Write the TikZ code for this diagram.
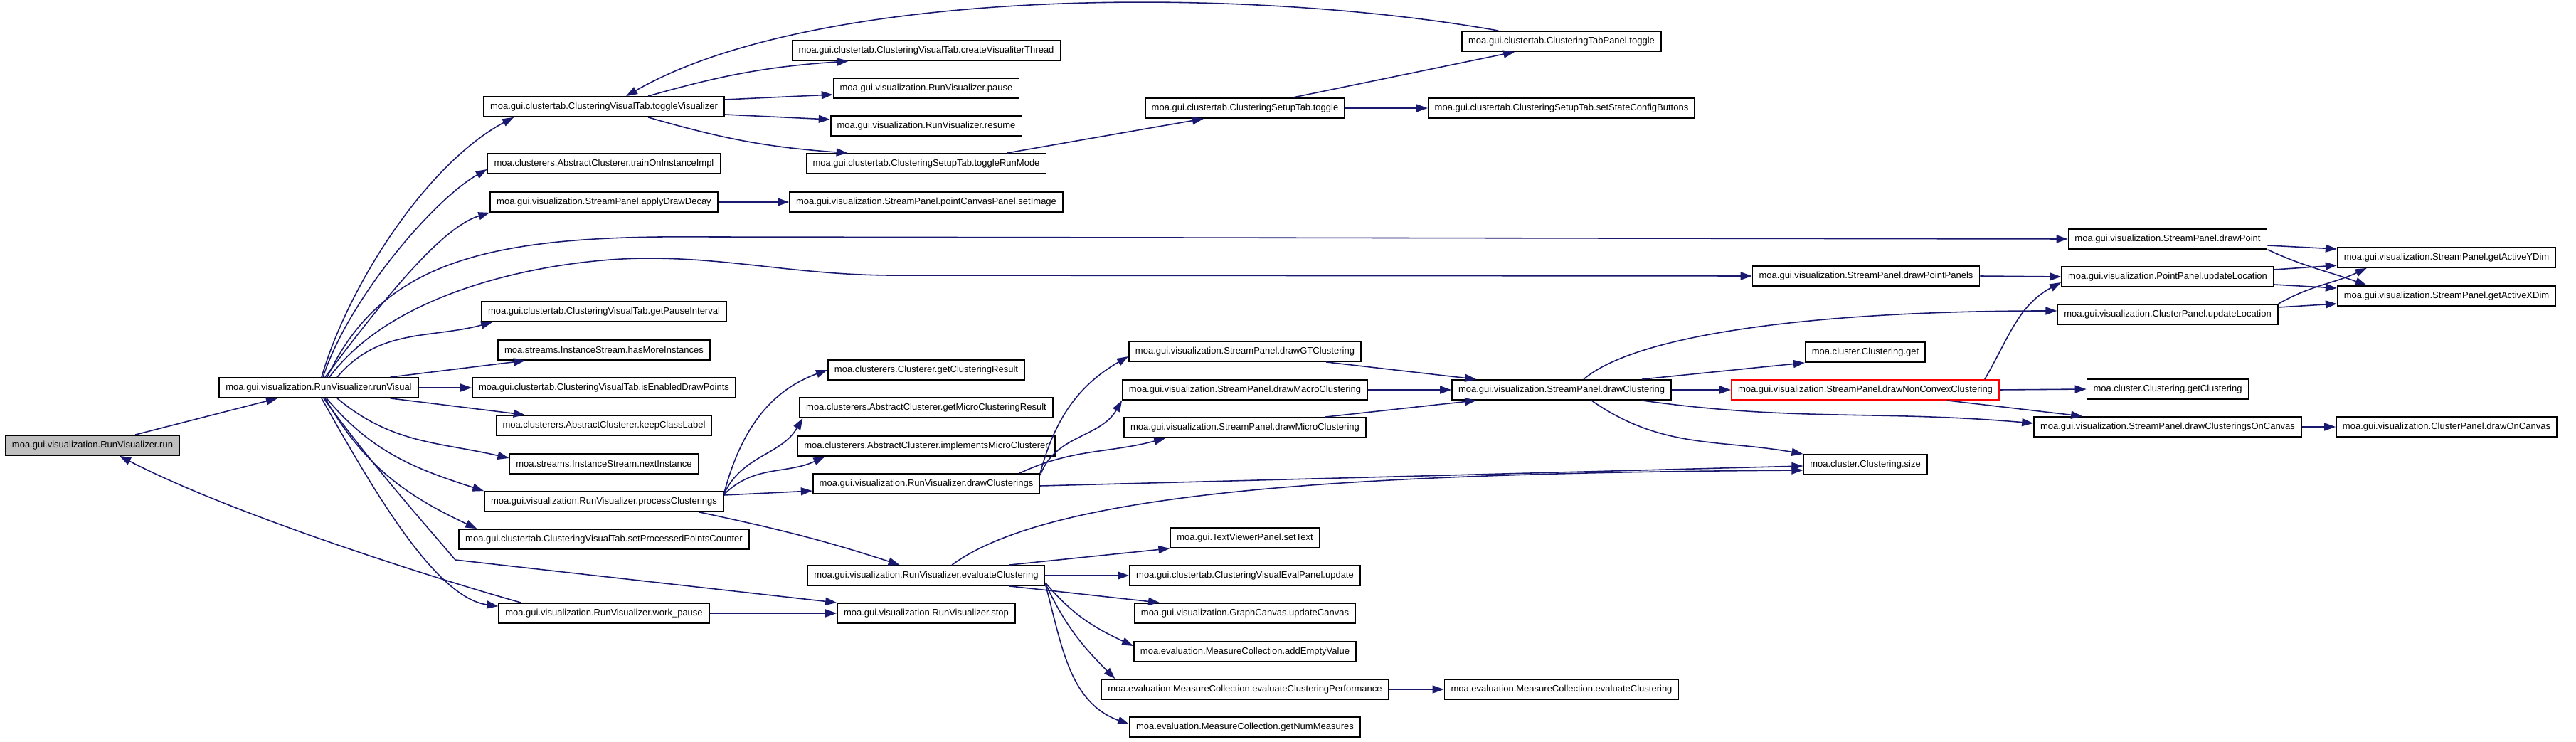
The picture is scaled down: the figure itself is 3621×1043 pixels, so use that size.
\documentclass[tikz,border=0pt]{standalone}
\usepackage{fontspec}
\setmainfont{Liberation Sans}
\usepackage{tikz}
\usetikzlibrary{arrows.meta}
\definecolor{edgeblue}{RGB}{25,25,112}
\definecolor{rungray}{RGB}{191,191,191}
\newcommand{\fn}{\fontsize{3.7}{4.4}\selectfont}

\begin{document}
\begin{tikzpicture}[x=0.01cm, y=0.01cm,
  fbox/.style={draw=black, fill=white, line width=0.5pt, minimum height=0.28cm,
               inner xsep=0.09cm, inner ysep=0pt, font=\fn},
  call/.style={draw=edgeblue, line width=0.45pt,
               -{Triangle[length=0.16cm, width=0.11cm]}}]

  \useasboundingbox (0,0) rectangle (3621,-1043);

  % Columns 0 and 1
  \node[fbox, fill=rungray] (run) at (130,-626) {moa.gui.visualization.RunVisualizer.run};
  \node[fbox] (runvis) at (448,-545) {moa.gui.visualization.RunVisualizer.runVisual};

  % Column 2
  \node[fbox] (togvis) at (849,-150) {moa.gui.clustertab.ClusteringVisualTab.toggleVisualizer};
  \node[fbox] (train) at (849,-230) {moa.clusterers.AbstractClusterer.trainOnInstanceImpl};
  \node[fbox] (decay) at (849,-284) {moa.gui.visualization.StreamPanel.applyDrawDecay};
  \node[fbox] (pauseint) at (849,-438) {moa.gui.clustertab.ClusteringVisualTab.getPauseInterval};
  \node[fbox] (hasmore) at (849,-492) {moa.streams.InstanceStream.hasMoreInstances};
  \node[fbox] (enabled) at (849,-545) {moa.gui.clustertab.ClusteringVisualTab.isEnabledDrawPoints};
  \node[fbox] (keeplabel) at (849,-598) {moa.clusterers.AbstractClusterer.keepClassLabel};
  \node[fbox] (nextinst) at (849,-652) {moa.streams.InstanceStream.nextInstance};
  \node[fbox] (process) at (849,-705) {moa.gui.visualization.RunVisualizer.processClusterings};
  \node[fbox] (counter) at (849,-758) {moa.gui.clustertab.ClusteringVisualTab.setProcessedPointsCounter};
  \node[fbox] (workpause) at (849,-862) {moa.gui.visualization.RunVisualizer.work\_pause};

  % Column 3
  \node[fbox] (thread) at (1302,-71) {moa.gui.clustertab.ClusteringVisualTab.createVisualiterThread};
  \node[fbox] (pause) at (1302,-124) {moa.gui.visualization.RunVisualizer.pause};
  \node[fbox] (resume) at (1302,-177) {moa.gui.visualization.RunVisualizer.resume};
  \node[fbox] (runmode) at (1302,-230) {moa.gui.clustertab.ClusteringSetupTab.toggleRunMode};
  \node[fbox] (setimage) at (1302,-284) {moa.gui.visualization.StreamPanel.pointCanvasPanel.setImage};
  \node[fbox] (getres) at (1302,-520) {moa.clusterers.Clusterer.getClusteringResult};
  \node[fbox] (getmicro) at (1302,-573) {moa.clusterers.AbstractClusterer.getMicroClusteringResult};
  \node[fbox] (implmicro) at (1302,-627) {moa.clusterers.AbstractClusterer.implementsMicroClusterer};
  \node[fbox] (drawcls) at (1302,-680) {moa.gui.visualization.RunVisualizer.drawClusterings};
  \node[fbox] (evalcl) at (1302,-809) {moa.gui.visualization.RunVisualizer.evaluateClustering};
  \node[fbox] (stop) at (1302,-862) {moa.gui.visualization.RunVisualizer.stop};

  % Column 4
  \node[fbox] (setuptog) at (1750,-152) {moa.gui.clustertab.ClusteringSetupTab.toggle};
  \node[fbox] (drawgt) at (1750,-494) {moa.gui.visualization.StreamPanel.drawGTClustering};
  \node[fbox] (drawmacro) at (1750,-548) {moa.gui.visualization.StreamPanel.drawMacroClustering};
  \node[fbox] (drawmicro) at (1750,-601) {moa.gui.visualization.StreamPanel.drawMicroClustering};
  \node[fbox] (settext) at (1750,-756) {moa.gui.TextViewerPanel.setText};
  \node[fbox] (evalpanel) at (1750,-809) {moa.gui.clustertab.ClusteringVisualEvalPanel.update};
  \node[fbox] (updcanvas) at (1750,-862) {moa.gui.visualization.GraphCanvas.updateCanvas};
  \node[fbox] (addempty) at (1750,-916) {moa.evaluation.MeasureCollection.addEmptyValue};
  \node[fbox] (evalperf) at (1750,-969) {moa.evaluation.MeasureCollection.evaluateClusteringPerformance};
  \node[fbox] (nummeas) at (1750,-1022) {moa.evaluation.MeasureCollection.getNumMeasures};

  % Column 5
  \node[fbox] (tabtog) at (2195,-58) {moa.gui.clustertab.ClusteringTabPanel.toggle};
  \node[fbox] (statebtn) at (2195,-152) {moa.gui.clustertab.ClusteringSetupTab.setStateConfigButtons};
  \node[fbox] (drawclu) at (2195,-548) {moa.gui.visualization.StreamPanel.drawClustering};
  \node[fbox] (mceval) at (2195,-969) {moa.evaluation.MeasureCollection.evaluateClustering};

  % Column 6
  \node[fbox] (pointpanels) at (2623,-388) {moa.gui.visualization.StreamPanel.drawPointPanels};
  \node[fbox] (clget) at (2622,-495) {moa.cluster.Clustering.get};
  \node[fbox, draw=red] (nonconvex) at (2622,-548) {moa.gui.visualization.StreamPanel.drawNonConvexClustering};
  \node[fbox] (clsize) at (2622,-653) {moa.cluster.Clustering.size};

  % Column 7
  \node[fbox] (drawpoint) at (3047,-336) {moa.gui.visualization.StreamPanel.drawPoint};
  \node[fbox] (ptloc) at (3047,-389) {moa.gui.visualization.PointPanel.updateLocation};
  \node[fbox] (clloc) at (3047,-442) {moa.gui.visualization.ClusterPanel.updateLocation};
  \node[fbox] (getclus) at (3047,-547) {moa.cluster.Clustering.getClustering};
  \node[fbox] (oncanvas) at (3047,-600) {moa.gui.visualization.StreamPanel.drawClusteringsOnCanvas};

  % Column 8
  \node[fbox] (ydim) at (3439,-362) {moa.gui.visualization.StreamPanel.getActiveYDim};
  \node[fbox] (xdim) at (3439,-416) {moa.gui.visualization.StreamPanel.getActiveXDim};
  \node[fbox] (drawcanvas) at (3439,-600) {moa.gui.visualization.ClusterPanel.drawOnCanvas};

  % run and its back edge
  \draw[call] ([xshift=6mm]run.north) -- ([xshift=-5.8mm]runvis.south);
  \draw[call] ([xshift=3.2mm]workpause.north west) .. controls (600,-810) and (320,-720) .. ([xshift=3.8mm]run.south);

  % toggle chain at the top
  \draw[call] ([xshift=5.2mm]tabtog.north west) .. controls (1750,20) and (1150,20) .. ([xshift=3.1mm]togvis.north);
  \draw[call] ([xshift=6.2mm]togvis.north) to[bend left=6] ([xshift=8mm]thread.south west);
  \draw[call] ([yshift=1mm]togvis.east) -- ([yshift=-0.9mm]pause.west);
  \draw[call] ([yshift=-1.1mm]togvis.east) -- ([yshift=0.9mm]resume.west);
  \draw[call] ([xshift=6.2mm]togvis.south) to[bend right=6] ([xshift=5.9mm]runmode.north west);
  \draw[call] ([xshift=-5.6mm]runmode.north east) -- ([xshift=8.3mm]setuptog.south west);
  \draw[call] ([xshift=-7.4mm]setuptog.north east) -- ([xshift=7.5mm]tabtog.south west);
  \draw[call] (setuptog.east) -- (statebtn.west);
  \draw[call] (decay.east) -- (setimage.west);

  % runVisual, upper fan
  \draw[call] ([xshift=0.4mm]runvis.north) .. controls (490,-400) and (600,-230) .. ([xshift=4.3mm]togvis.south west);
  \draw[call] ([xshift=0.6mm]runvis.north) .. controls (490,-420) and (610,-280) .. ([yshift=-0.8mm]train.west);
  \draw[call] ([xshift=0.9mm]runvis.north) .. controls (540,-420) and (620,-320) .. (decay.south west);
  \draw[call] ([xshift=1.2mm]runvis.north) .. controls (540,-360) and (700,-330) .. (1000,-333) -- (drawpoint.west);
  \draw[call] ([xshift=1.5mm]runvis.north) .. controls (560,-400) and (790,-363) .. (911,-363)
    .. controls (1030,-363) and (1120,-386) .. (1250,-387) -- (pointpanels.west);
  \draw[call] ([xshift=2.6mm]runvis.north) to[out=50,in=195] ([xshift=1.6mm]pauseint.south west);
  \draw[call] ([xshift=-4mm]runvis.north east) -- ([xshift=3.9mm]hasmore.south west);
  \draw[call] (runvis.east) -- (enabled.west);
  \draw[call] ([xshift=-4mm]runvis.south east) -- ([xshift=4.1mm]keeplabel.north west);

  % runVisual, lower fan
  \draw[call] ([xshift=2.6mm]runvis.south) to[out=-40,in=167] ([yshift=0.8mm]nextinst.west);
  \draw[call] ([xshift=1.1mm]runvis.south) to[out=-50,in=162] (process.north west);
  \draw[call] ([xshift=0.9mm]runvis.south) to[out=-60,in=155] ([xshift=2.6mm]counter.north west);
  \draw[call] ([xshift=0.7mm]runvis.south) .. controls (520,-650) and (600,-740) .. (640,-787) -- (stop.north west);
  \draw[call] ([xshift=0.4mm]runvis.south) .. controls (520,-680) and (610,-840) .. ([yshift=-0.5mm]workpause.north west);
  \draw[call] (workpause.east) -- (stop.west);

  % processClusterings
  \draw[call] ([yshift=1.2mm]process.east) to[out=75,in=200] (getres.west);
  \draw[call] ([yshift=1.1mm]process.east) to[out=65,in=240] ([xshift=0.5mm]getmicro.south west);
  \draw[call] ([yshift=1mm]process.east) to[out=45,in=205] ([xshift=3.9mm]implmicro.south west);
  \draw[call] ([yshift=0.9mm]process.east) -- ([yshift=-1mm]drawcls.west);
  \draw[call] ([xshift=-3.5mm]process.south east) to[out=-12,in=162] ([xshift=13mm]evalcl.north west);

  % drawClusterings
  \draw[call] (drawcls.north east) to[out=75,in=210] ([yshift=-0.7mm]drawgt.west);
  \draw[call] ([yshift=-0.3mm]drawcls.north east) to[out=70,in=240] (drawmacro.south west);
  \draw[call] ([xshift=-2.9mm]drawcls.north east) to[out=25,in=195] ([xshift=5.9mm]drawmicro.south west);
  \draw[call] ([yshift=-0.3mm]drawcls.east) -- ([yshift=-0.2mm]clsize.west);

  % evaluateClustering
  \draw[call] ([xshift=3.6mm]evalcl.north) .. controls (1480,-690) and (1900,-665) .. ([yshift=-0.8mm]clsize.west);
  \draw[call] ([xshift=-5.1mm]evalcl.north east) -- (settext.south west);
  \draw[call] (evalcl.east) -- (evalpanel.west);
  \draw[call] ([xshift=-5.1mm]evalcl.south east) -- ([xshift=3.6mm]updcanvas.north west);
  \draw[call] ([yshift=-1mm]evalcl.east) to[out=-50,in=155] ([yshift=0.8mm]addempty.west);
  \draw[call] ([yshift=-1.1mm]evalcl.east) to[out=-65,in=135] ([xshift=2mm]evalperf.north west);
  \draw[call] ([yshift=-1.2mm]evalcl.east) to[out=-75,in=160] ([yshift=0.4mm]nummeas.west);
  \draw[call] (evalperf.east) -- (mceval.west);

  % into drawClustering
  \draw[call] ([xshift=-5mm]drawgt.south east) -- ([xshift=3.5mm]drawclu.north west);
  \draw[call] (drawmacro.east) -- (drawclu.west);
  \draw[call] ([xshift=-5.8mm]drawmicro.north east) -- ([xshift=3.5mm]drawclu.south west);

  % drawClustering
  \draw[call] ([xshift=3.1mm]drawclu.north) .. controls (2300,-470) and (2550,-437) .. ([yshift=0.5mm]clloc.west);
  \draw[call] ([xshift=-4.2mm]drawclu.north east) -- (clget.south west);
  \draw[call] (drawclu.east) -- (nonconvex.west);
  \draw[call] ([xshift=-4.2mm]drawclu.south east) to[out=-8,in=175] ([yshift=0.5mm]oncanvas.west);
  \draw[call] ([xshift=4.2mm]drawclu.south) to[out=-35,in=170] (clsize.north west);

  % drawNonConvexClustering
  \draw[call] ([xshift=-2.1mm]nonconvex.north east) to[out=60,in=208] ([yshift=-0.8mm]ptloc.west);
  \draw[call] (nonconvex.east) -- (getclus.west);
  \draw[call] ([xshift=-7.4mm]nonconvex.south east) -- ([xshift=6.9mm]oncanvas.north west);
  \draw[call] (oncanvas.east) -- (drawcanvas.west);
  \draw[call] (pointpanels.east) -- (ptloc.west);

  % right-hand column
  \draw[call] ([yshift=1mm]ptloc.east) -- ([yshift=-1.1mm]ydim.west);
  \draw[call] ([yshift=-1.1mm]ptloc.east) -- ([yshift=1.1mm]xdim.west);
  \draw[call] (clloc.north east) to[out=30,in=205] ([xshift=4.2mm]ydim.south west);
  \draw[call] ([yshift=1mm]clloc.east) -- ([yshift=-1.1mm]xdim.west);
  \draw[call] ([yshift=-0.9mm]drawpoint.east) -- ([yshift=1.2mm]ydim.west);
  \draw[call] (drawpoint.south east) to[out=-25,in=160] ([xshift=4.2mm]xdim.north west);

\end{tikzpicture}
\end{document}
